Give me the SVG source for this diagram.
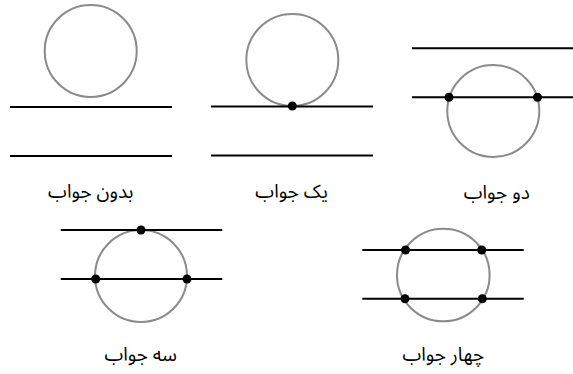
<svg xmlns="http://www.w3.org/2000/svg" width="573" height="374" viewBox="0 0 573 374">
<style>
.c{fill:none;stroke:#8a8a8a;stroke-width:2}
.l{stroke:#000;stroke-width:2}
.d{fill:#000}
.t{font-family:"Noto Sans Arabic","Noto Sans","DejaVu Sans",sans-serif;font-size:19px;fill:#000;text-anchor:middle;direction:rtl}
</style>
<rect width="573" height="374" fill="#fff"/>
<g id="none">
<circle class="c" cx="90.7" cy="51" r="46"/>
<line class="l" x1="10" y1="107" x2="172" y2="107"/>
<line class="l" x1="10" y1="156" x2="172" y2="156"/>
<text class="t" x="90.7" y="198">بدون جواب</text>
</g>
<g id="one">
<circle class="c" cx="292.3" cy="60" r="46"/>
<line class="l" x1="211" y1="106.5" x2="373" y2="106.5"/>
<line class="l" x1="211" y1="155.5" x2="373" y2="155.5"/>
<circle class="d" cx="292.3" cy="106" r="4.5"/>
<text class="t" x="291.7" y="198">یک جواب</text>
</g>
<g id="two">
<circle class="c" cx="493.3" cy="111" r="46"/>
<line class="l" x1="412" y1="48.3" x2="573" y2="48.3"/>
<line class="l" x1="412" y1="97.3" x2="573" y2="97.3"/>
<circle class="d" cx="449" cy="97.3" r="4.5"/>
<circle class="d" cx="537.5" cy="97.3" r="4.5"/>
<text class="t" x="496.7" y="199">دو جواب</text>
</g>
<g id="three">
<circle class="c" cx="141" cy="276" r="46"/>
<line class="l" x1="60.7" y1="230" x2="222.3" y2="230"/>
<line class="l" x1="60.7" y1="279" x2="222.3" y2="279"/>
<circle class="d" cx="141" cy="230" r="4.5"/>
<circle class="d" cx="95.7" cy="279" r="4.5"/>
<circle class="d" cx="187" cy="279" r="4.5"/>
<text class="t" x="140.7" y="361">سه جواب</text>
</g>
<g id="four">
<circle class="c" cx="443.3" cy="275" r="46.3"/>
<line class="l" x1="362.3" y1="250" x2="523.7" y2="250"/>
<line class="l" x1="362.3" y1="298.7" x2="523.7" y2="298.7"/>
<circle class="d" cx="405.5" cy="250" r="4.5"/>
<circle class="d" cx="481.7" cy="250" r="4.5"/>
<circle class="d" cx="405" cy="298.7" r="4.5"/>
<circle class="d" cx="482.3" cy="298.7" r="4.5"/>
<text class="t" x="443.3" y="361">چهار جواب</text>
</g>
</svg>
